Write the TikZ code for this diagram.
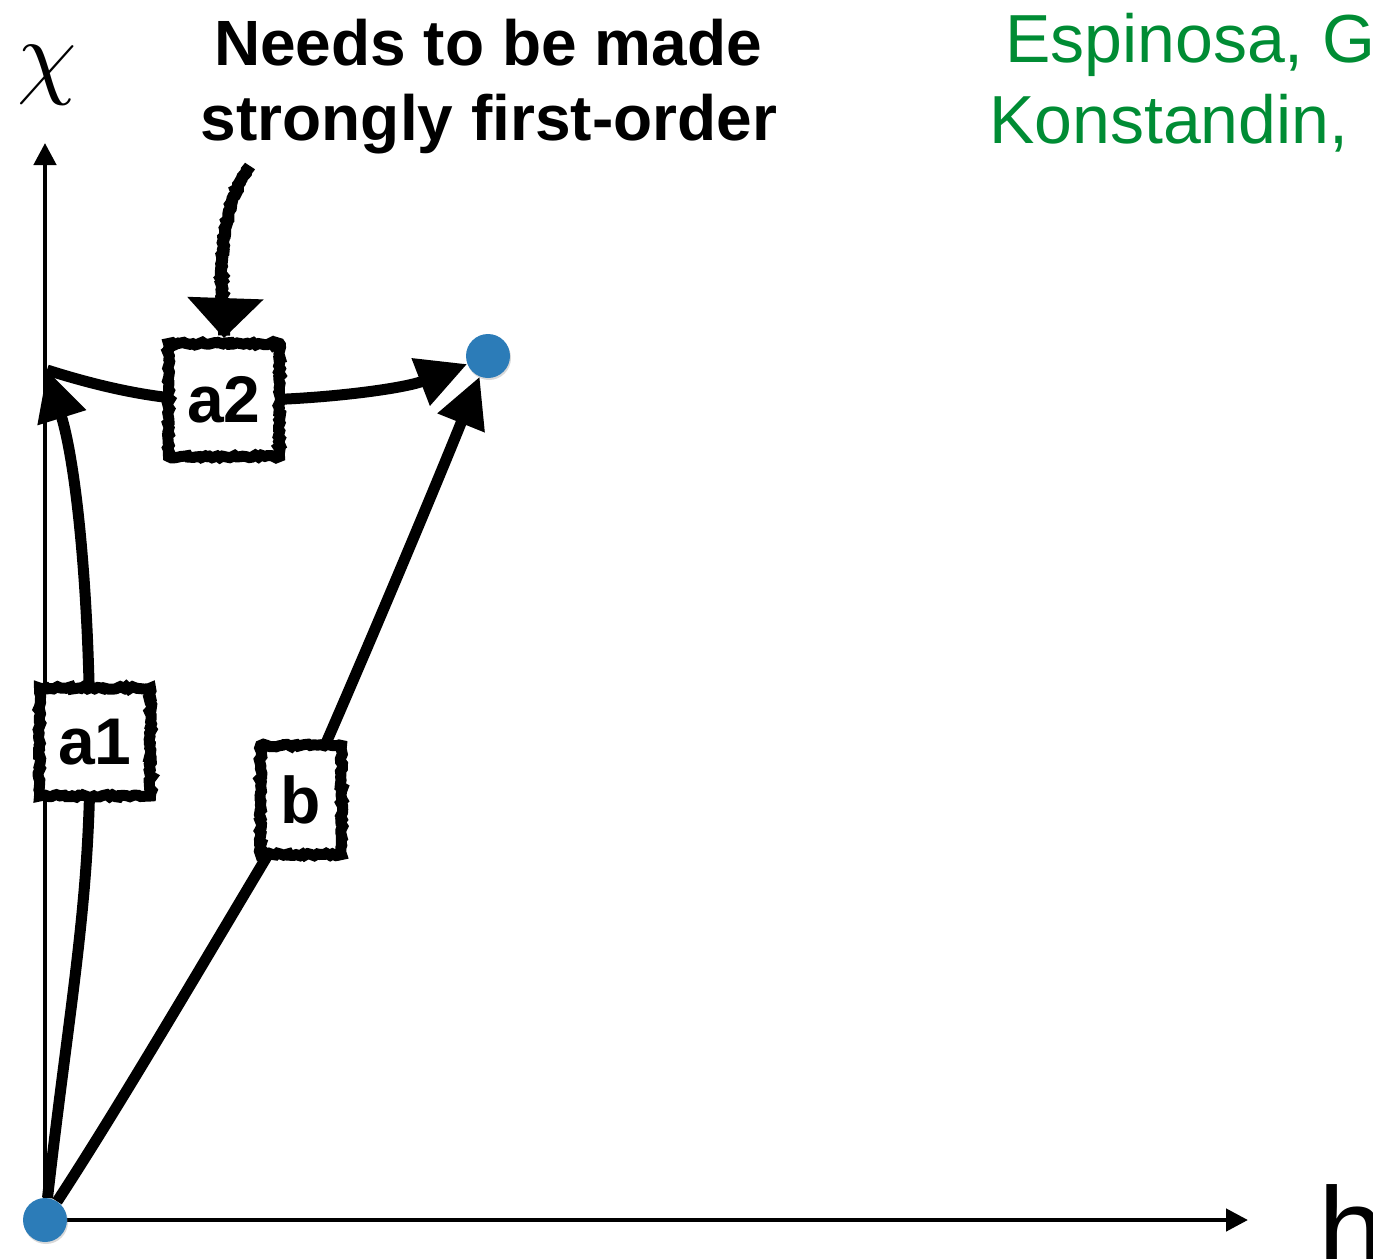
\documentclass[tikz,border=0pt]{standalone}
\usepackage{fontspec}
\setmainfont{Liberation Sans}
\usetikzlibrary{arrows.meta,decorations.pathmorphing,shadows,backgrounds}
\definecolor{dotblue}{RGB}{44,124,184}
\definecolor{espgreen}{RGB}{0,140,52}
\begin{document}
\begin{tikzpicture}[x=1pt,y=-1pt,
  curve/.style={line width=11pt, -{Triangle[length=50pt,width=48pt]}},
  axis/.style={line width=4.5pt, -{Triangle[length=22pt,width=22pt]}},
  sketchbox/.style={draw, fill=white, line width=11pt, inner sep=0pt,
    font=\fontsize{66}{66}\selectfont\bfseries,
    decorate, decoration={random steps,segment length=3pt,amplitude=1.4pt}},
  sketcharrow/.style={line width=12pt, -{Triangle[length=40pt,width=74pt]},
    decorate, decoration={random steps,segment length=2.5pt,amplitude=1pt}},
  dot/.style={circle, fill=dotblue, minimum size=44pt, inner sep=0pt,
    drop shadow={opacity=0.3,shadow xshift=1pt,shadow yshift=-2pt}},
  title/.style={anchor=base, inner sep=0pt, font=\fontsize{64}{64}\selectfont\bfseries},
  cite/.style={anchor=base west, inner sep=0pt, text=espgreen, font=\fontsize{68}{68}\selectfont}
]
\clip (0,0) rectangle (1373,1258);

% end points
\node[dot] (o) at (45,1220) {};
\node[dot] (e) at (488,356) {};
\coordinate (ya) at (47,370);
\coordinate (xend) at (1248,1220);
\coordinate (yend) at (45,143);

% labels on the paths
\node[sketchbox, minimum width=111pt, minimum height=108pt] (a1) at (95,742) {a1};
\node[sketchbox, minimum width=111pt, minimum height=113pt] (a2) at (224,400) {a2};
\node[sketchbox, minimum width=81pt, minimum height=109pt] (b) at (301,800) {b};

\begin{pgfonlayer}{background}
  \draw[axis] (o.center) -- (xend);
  \draw[axis] (o.center) -- (yend);
  \draw[curve] (o) .. controls (70,1000) and (91,900) .. (90,742)
               .. controls (89,580) and (75,460) .. (ya);
  \draw[curve] (ya) .. controls (110,390) and (170,402) .. (a2.center)
               .. controls (300,402) and (400,390) .. (e);
  \draw[curve] (o) .. controls (130,1090) and (240,900) .. (b.center)
               .. controls (350,690) and (430,500) .. (e);
\end{pgfonlayer}

% title and pointer
\node[title] (n1) at (488,65) {Needs to be made};
\node[title] (n2) at (489,140) {strongly first-order};
\coordinate (ns) at (250,166);
\draw[sketcharrow] (ns) .. controls (222,205) and (218,260) .. (a2.north);

% citation
\node[cite] (esp) at (1005,62) {Espinosa, G};
\node[cite] (kon) at (989,143) {Konstandin,};

% axis labels
\node[scale=9.5, inner sep=0pt] (chi) at (47,75) {$\chi$};
\node[anchor=base west, inner sep=0pt, font=\fontsize{120}{120}\selectfont] (h) at (1318,1271) {h};
\end{tikzpicture}
\end{document}
